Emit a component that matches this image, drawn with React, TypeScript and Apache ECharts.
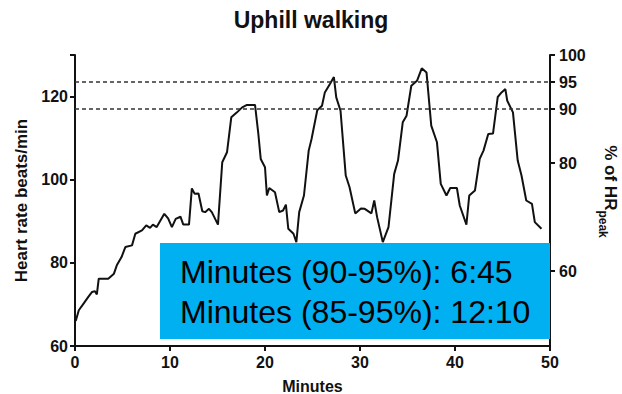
import React, { useEffect, useRef } from "react";
import * as echarts from "echarts";

const TITLE = "Uphill walking";
const X_NAME = "Minutes";
const Y_LEFT_NAME = "Heart rate beats/min";
const HR_PEAK = 130;

const minutes = [
  0, 0.1, 0.4, 0.9, 1.4, 1.8, 2.1, 2.3, 2.5, 3.5, 4.1, 4.4, 4.9, 5.3, 6.0, 6.35, 7.05, 7.5, 7.9, 8.2,
  8.6, 9.4, 9.8, 10.2, 10.6, 11.1, 11.4, 12.0, 12.3, 12.6, 13.0, 13.4, 13.7, 14.1, 14.4, 15.05, 15.5,
  16.0, 16.45, 17.05, 17.6, 18.1, 18.95, 19.3, 19.55, 20.0, 20.2, 20.45, 21.05, 21.5, 21.9, 22.2,
  22.45, 23.0, 23.3, 23.6, 24.1, 24.6, 24.9, 25.5, 26.0, 26.3, 26.85, 27.25, 27.5, 27.95, 28.5, 28.9,
  29.5, 30.1, 30.5, 31.2, 31.5, 31.8, 32.4, 33.0, 33.6, 34.0, 34.5, 34.9, 35.4, 36.0, 36.5, 37.0, 37.5,
  38.1, 38.5, 39.1, 39.5, 40.2, 40.5, 41.2, 41.5, 42.1, 42.6, 43.0, 43.5, 44.0, 44.5, 44.9, 45.3, 45.5,
  46.1, 46.6, 47.0, 47.5, 48.1, 48.4, 49.1,
];

const heartRate = [
  66, 66.2, 68.6, 70.2, 71.8, 73.0, 73.2, 72.4, 76.2, 76.2, 77.4, 79.4, 81.4, 83.8, 84.2, 87.0, 87.8,
  89.0, 88.4, 89.2, 88.6, 91.8, 90.7, 88.6, 90.6, 91.1, 89.2, 89.2, 97.9, 96.6, 96.7, 92.4, 92.2, 93.0,
  92.2, 89.2, 104.2, 106.6, 115.0, 116.2, 117.4, 118.0, 118.0, 111.0, 105.0, 103.0, 96.2, 98.0, 97.0,
  92.2, 92.6, 94.0, 88.2, 87.0, 85.0, 92.2, 96.2, 107.0, 109.8, 116.7, 117.8, 121.0, 123.1, 124.7,
  119.8, 116.6, 101.0, 98.2, 91.9, 93.1, 93.0, 91.9, 95.0, 91.0, 85.0, 88.6, 101.4, 104.6, 113.8, 115.4,
  122.6, 123.8, 126.8, 125.8, 113.0, 109.0, 99.0, 96.2, 98.0, 98.0, 93.8, 89.2, 96.2, 97.4, 105.0,
  107.0, 111.0, 111.1, 119.9, 121.0, 121.8, 119.0, 116.2, 104.6, 101.0, 95.0, 94.2, 89.8, 88.2,
];

const leftTicks = [60, 80, 100, 120, 130];
const leftLabels = [60, 80, 100, 120];
const rightTicks = [60, 80, 90, 95, 100];
const thresholdsPct = [90, 95];
const xTicks = [0, 10, 20, 30, 40, 50];

const boxLines = ["Minutes (90-95%): 6:45", "Minutes (85-95%): 12:10"];

const FONT = "'Liberation Sans', Arial, Helvetica, sans-serif";

export default function App() {
  const ref = useRef<HTMLDivElement>(null);
  useEffect(() => {
    document.body.style.margin = "0";
    const chart = echarts.init(ref.current!, null, { renderer: "svg" });
    const axisText = { color: "#111", fontWeight: "bold" as const, fontSize: 16, fontFamily: FONT };
    const axisLine = { show: true, lineStyle: { color: "#111", width: 2 } };
    const axisTick = { show: true, length: 5, lineStyle: { color: "#111", width: 2 } };
    const option = {
      animation: false,
      textStyle: { fontFamily: FONT },
      title: {
        text: TITLE,
        left: "center",
        top: 3,
        textStyle: { fontSize: 23, fontWeight: "bold", color: "#111", fontFamily: FONT },
      },
      grid: { left: 75, right: 72, top: 55, bottom: 48, containLabel: false, outerBoundsMode: "none" },
      xAxis: {
        type: "value",
        min: 0,
        max: 50,
        interval: 10,
        name: X_NAME,
        nameLocation: "middle",
        nameGap: 32,
        nameTextStyle: { ...axisText },
        axisLine,
        axisTick: { ...axisTick },
        axisLabel: { ...axisText, margin: 8, customValues: xTicks },
        splitLine: { show: false },
      },
      yAxis: [
        {
          type: "value",
          min: 60,
          max: HR_PEAK,
          position: "left",
          name: Y_LEFT_NAME,
          nameLocation: "middle",
          nameGap: 43,
          nameTextStyle: { ...axisText, fontSize: 17 },
          axisLine,
          axisTick: { ...axisTick, customValues: leftTicks },
          axisLabel: { ...axisText, margin: 7, customValues: leftLabels },
          splitLine: { show: false },
        },
        {
          type: "value",
          min: (60 * 100) / HR_PEAK,
          max: 100,
          position: "right",
          name: "{a|% of HR}{b|peak}",
          nameLocation: "middle",
          nameRotate: -90,
          nameGap: 47,
          nameTextStyle: {
            ...axisText,
            padding: [0, 18, 0, 0],
            rich: {
              a: { fontSize: 17, fontWeight: "bold", color: "#111", fontFamily: FONT, lineHeight: 26, verticalAlign: "middle" },
              b: { fontSize: 12, fontWeight: "bold", color: "#111", fontFamily: FONT, lineHeight: 10, verticalAlign: "bottom" },
            },
          },
          axisLine,
          axisTick: { ...axisTick, customValues: rightTicks },
          axisLabel: { ...axisText, margin: 9, customValues: rightTicks },
          splitLine: { show: false },
        },
      ],
      series: [
        {
          type: "line",
          yAxisIndex: 0,
          data: minutes.map((m, i) => [m, heartRate[i]]),
          showSymbol: false,
          symbol: "none",
          lineStyle: { color: "#111", width: 2 },
          markLine: {
            silent: true,
            symbol: ["none", "none"],
            label: { show: false },
            lineStyle: { color: "#333", width: 1.5, type: [4, 3] },
            data: thresholdsPct.map((p) => ({ yAxis: (p * HR_PEAK) / 100 })),
          },
          z: 2,
        },
      ],
      graphic: [
        {
          type: "rect",
          shape: { x: 160, y: 243, width: 390, height: 96 },
          style: { fill: "#00B0F0" },
          z: 100,
        },
        ...boxLines.map((t, i) => ({
          type: "text",
          x: 180,
          y: 271.5 + i * 40,
          style: {
            text: t,
            fontSize: 32,
            fontFamily: FONT,
            fill: "#000",
            verticalAlign: "middle",
            align: "left",
          },
          z: 101,
        })),
      ],
    };
    chart.setOption(option as any);
    return () => chart.dispose();
  }, []);
  return <div ref={ref} style={{ width: 622, height: 394 }} />;
}
